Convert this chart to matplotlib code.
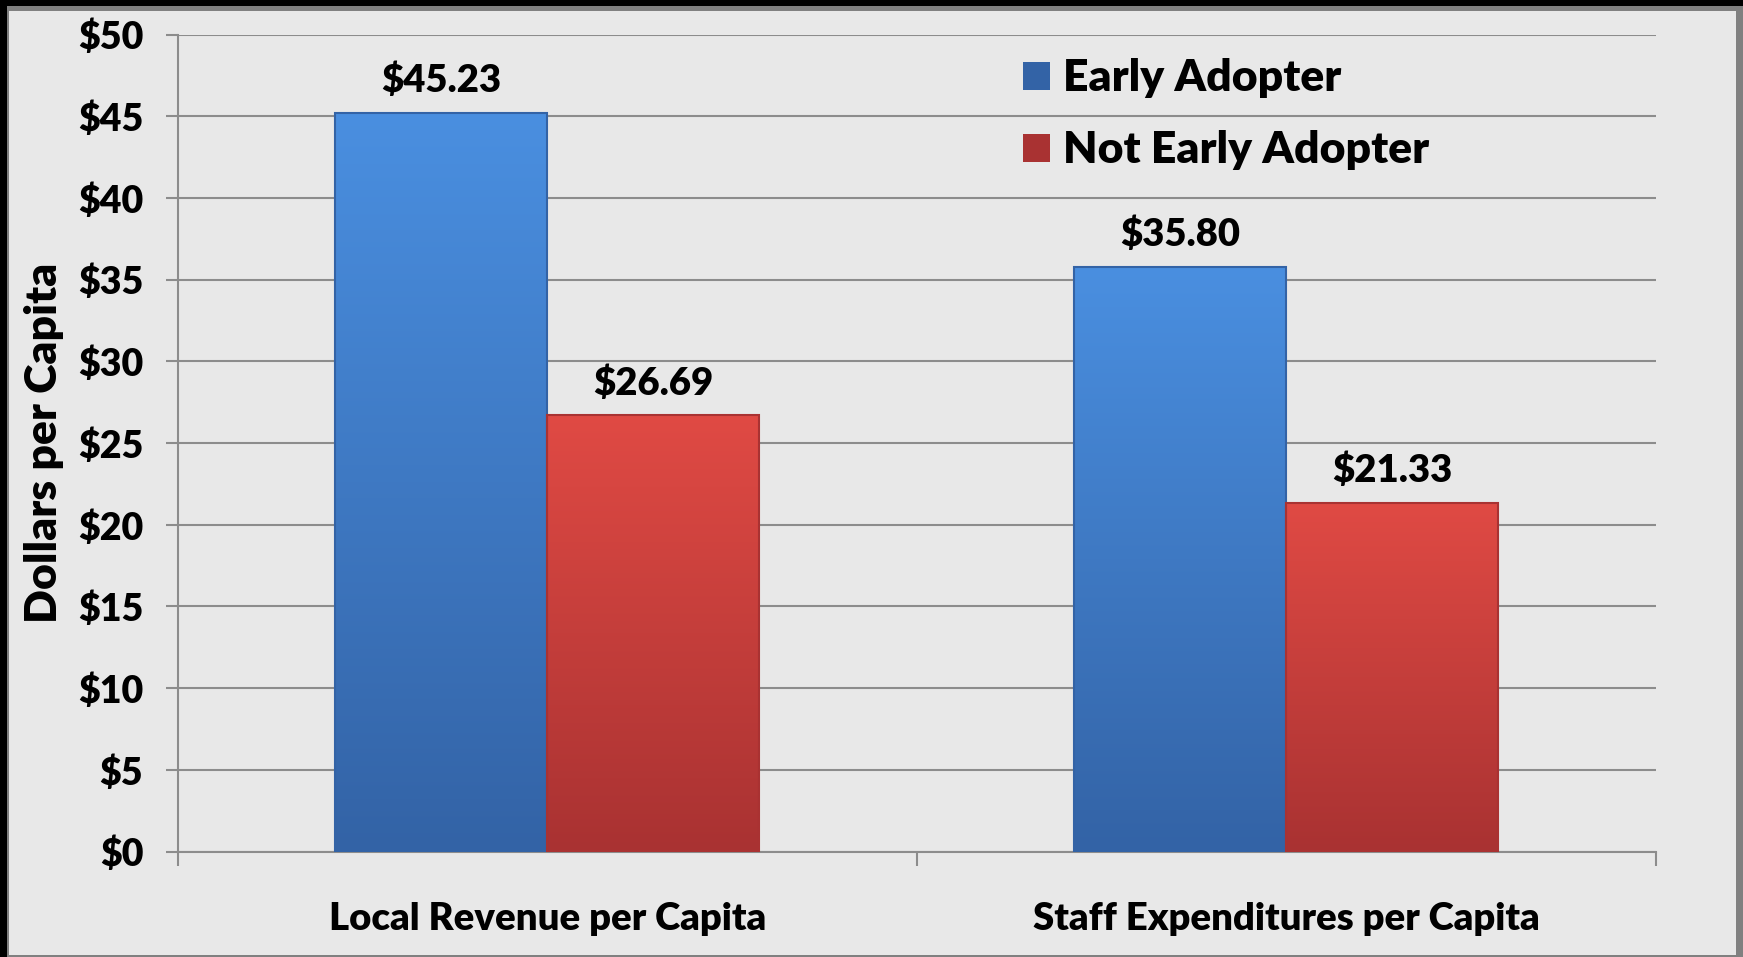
import numpy as np
import matplotlib.pyplot as plt
from matplotlib.patches import Rectangle
from matplotlib.colors import LinearSegmentedColormap

categories = ['Local Revenue per Capita', 'Staff Expenditures per Capita']
series = ['Early Adopter', 'Not Early Adopter']
early = [45.23, 35.80]
not_early = [26.69, 21.33]
yticks = [0, 5, 10, 15, 20, 25, 30, 35, 40, 45, 50]

blue_top, blue_bot = '#4a8fe0', '#3363a6'
red_top, red_bot = '#e04a44', '#a93232'

WT = 'heavy'
plt.rcParams['font.family'] = ['Lato', 'DejaVu Sans']
plt.rcParams['font.weight'] = WT

W, H = 1743, 957
fig = plt.figure(figsize=(W / 100, H / 100), dpi=100)
fig.patch.set_facecolor('#808080')

# black strips on top/left, light panel inside (behind the axes)
fig.patches.append(Rectangle((0, 1 - 6 / H), 1, 6 / H, transform=fig.transFigure,
                             facecolor='black', edgecolor='none', zorder=-2))
fig.patches.append(Rectangle((0, 0), 7 / W, 1, transform=fig.transFigure,
                             facecolor='black', edgecolor='none', zorder=-2))
fig.patches.append(Rectangle((9 / W, 2 / H), (1736 - 9) / W, (955 - 11) / H,
                             transform=fig.transFigure, facecolor='#e8e8e8',
                             edgecolor='none', zorder=-2))

ax = fig.add_axes([178 / W, 1 - 851.5 / H, (1655.5 - 178) / W, (851.5 - 34.7) / H])
ax.set_facecolor('none')

x = np.arange(len(categories))
w = 0.287


def grad_bars(xs, vals, top, bot, label):
    bars = ax.bar(xs, vals, w, color=bot, edgecolor='none', label=label, zorder=2)
    cmap = LinearSegmentedColormap.from_list('g', [bot, top])
    g = np.linspace(0, 1, 256).reshape(-1, 1)
    for b in bars:
        x0, y0 = b.get_x(), b.get_y()
        im = ax.imshow(g, cmap=cmap, origin='lower', aspect='auto', zorder=3,
                       extent=(x0, x0 + b.get_width(), y0, y0 + b.get_height()))
        im.set_clip_path(b)
        # bevel highlights / shading
        ax.add_patch(Rectangle((x0, y0), b.get_width(), b.get_height(),
                               facecolor='none', edgecolor=bot, lw=1.5, zorder=4))
        ax.plot([x0 + 0.01, x0 + b.get_width() - 0.01],
                [y0 + b.get_height() - 0.25] * 2, color=top, lw=2.5,
                alpha=0.6, zorder=5, solid_capstyle='butt')
    return bars


b1 = grad_bars(x - w / 2, early, blue_top, blue_bot, series[0])
b2 = grad_bars(x + w / 2, not_early, red_top, red_bot, series[1])

for bars, vals in ((b1, early), (b2, not_early)):
    for b, v in zip(bars, vals):
        ax.text(b.get_x() + b.get_width() / 2, v + 0.9, f'${v:.2f}',
                ha='center', va='bottom', fontsize=27.5, fontweight=WT)

ax.set_xlim(-0.5, 1.5)
ax.set_ylim(0, 50)
ax.set_yticks(yticks)
ax.set_yticklabels([f'${t}' for t in yticks])
ax.yaxis.grid(True, color='#8c8c8c', lw=1.5, zorder=1)
ax.set_axisbelow(True)

ax.set_xticks([-0.5, 0.5, 1.5])
ax.set_xticklabels([])
ax.set_xticks(x, minor=True)
ax.set_xticklabels(categories, minor=True, fontsize=27.5, fontweight=WT)
ax.tick_params(axis='x', which='minor', length=0, pad=36)
ax.tick_params(axis='x', which='major', length=10, width=1.5, color='#8c8c8c')
ax.tick_params(axis='y', length=9, width=1.5, color='#8c8c8c', pad=16,
               labelsize=27)
for lab in ax.get_yticklabels():
    lab.set_fontweight(WT)

for s in ('top', 'right'):
    ax.spines[s].set_visible(False)
for s in ('left', 'bottom'):
    ax.spines[s].set_color('#8c8c8c')
    ax.spines[s].set_linewidth(1.5)

ax.set_ylabel('Dollars per Capita', fontsize=32, fontweight=WT, labelpad=10)

ax.legend(loc='upper left', bbox_to_anchor=(0.545, 1.02), frameon=False,
          handlelength=0.6, handleheight=0.6, handletextpad=0.3,
          labelspacing=0.72, prop={'weight': WT, 'size': 32})

fig.savefig('out.png', dpi=100, facecolor=fig.get_facecolor())
